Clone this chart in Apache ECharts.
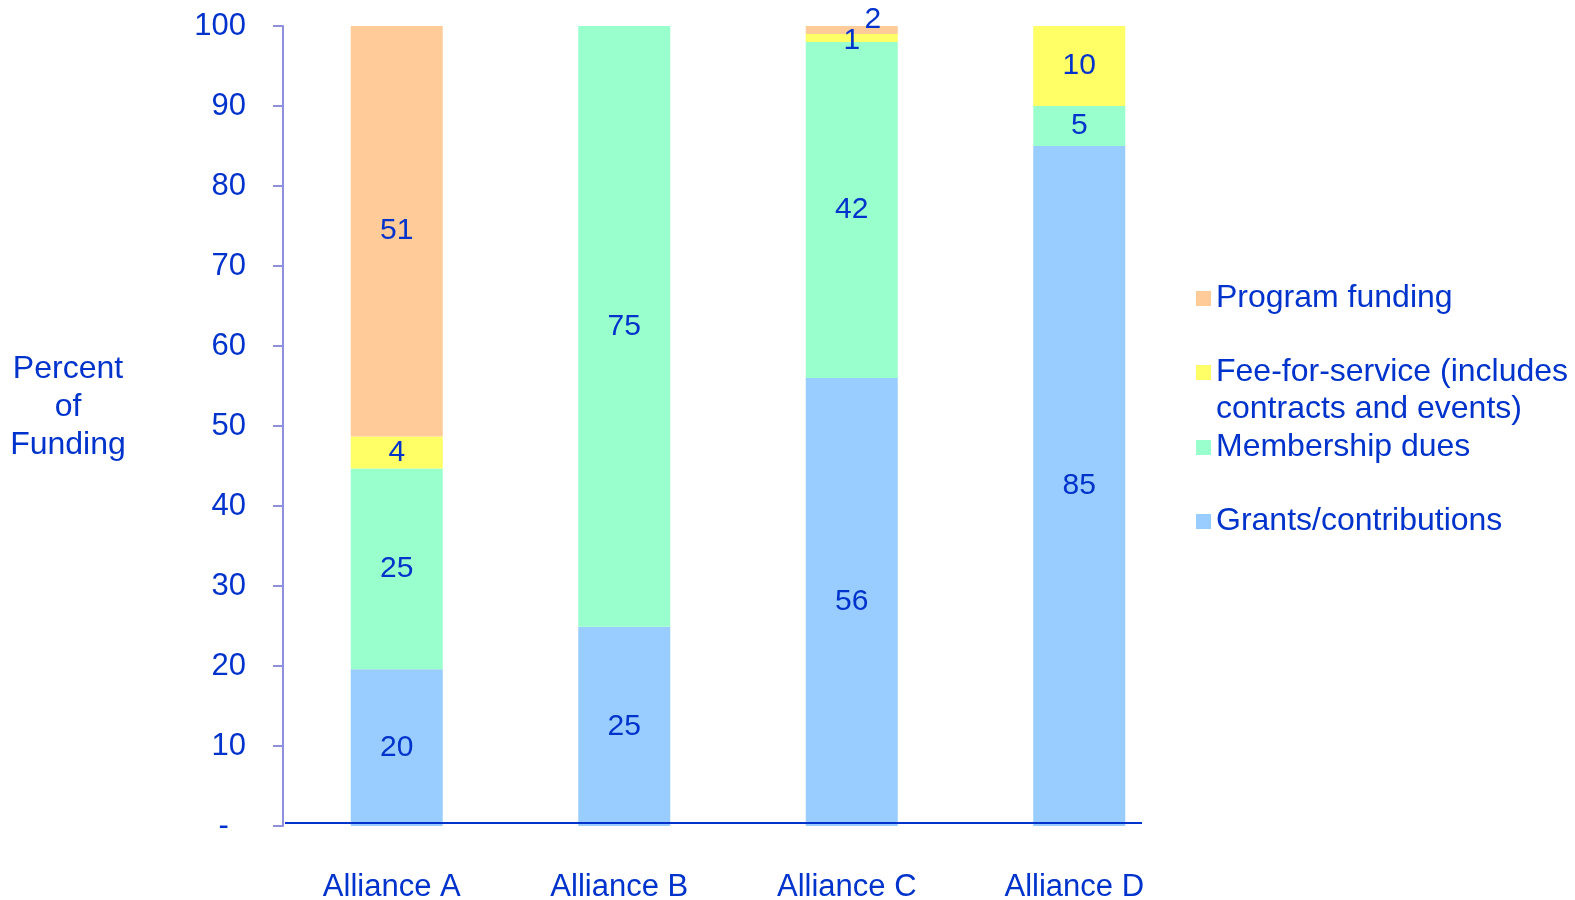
<!DOCTYPE html>
<html>
<head>
<meta charset="utf-8">
<script src="https://cdn.jsdelivr.net/npm/echarts@6/dist/echarts.min.js"></script>
<style>
  html, body { margin: 0; padding: 0; background: #fff; }
  #chart { width: 1575px; height: 900px; }
</style>
</head>
<body>
<div id="chart"></div>
<script>
// categories and series values (percent of funding)
const categories = ['Alliance A', 'Alliance B', 'Alliance C', 'Alliance D'];
const grants = [19.6, 24.9, 56, 85];
const membership = [25.1, 75.1, 42, 5];
const feeForService = [4.0, null, 1, 10];
const programFunding = [51.3, null, 2, null];
const yTicks = { min: 0, max: 100, interval: 10 };

const blue = '#0033CC';
const axisPurple = '#8F8FE0';
const fontFamily = 'Liberation Sans, Arial, sans-serif';

const chart = echarts.init(document.getElementById('chart'));

function labelFormatter(p) {
  return p.value == null ? '' : String(Math.round(p.value));
}

function makeSeries(name, values, color, itemLabels) {
  return {
    name: name,
    type: 'bar',
    stack: 'total',
    barWidth: 92,
    itemStyle: { color: color },
    label: {
      show: true,
      position: 'inside',
      color: blue,
      fontSize: 30,
      fontFamily: fontFamily,
      formatter: labelFormatter
    },
    data: values.map((v, i) => {
      const item = { value: v };
      if (itemLabels && itemLabels[i]) item.label = itemLabels[i];
      return item;
    })
  };
}

// single-item legends so the spacing follows the original layout
function makeLegend(name, top) {
  return {
    data: [name],
    orient: 'vertical',
    left: 1191,
    top: top,
    icon: 'rect',
    itemWidth: 15,
    itemHeight: 15,
    selectedMode: false,
    textStyle: { color: blue, fontSize: 32, fontFamily: fontFamily, lineHeight: 37 },
    formatter: n => n === 'Fee-for-service (includes contracts and events)'
      ? '\nFee-for-service (includes\ncontracts and events)'
      : n
  };
}

const option = {
  animation: false,
  backgroundColor: '#fff',
  grid: {
    left: 283, right: 382, top: 26, bottom: 74,
    containLabel: false,
    outerBoundsMode: 'none'
  },
  legend: [
    makeLegend('Program funding', 275),
    makeLegend('Fee-for-service (includes contracts and events)', 312),
    makeLegend('Membership dues', 424),
    makeLegend('Grants/contributions', 498)
  ],
  xAxis: {
    type: 'category',
    data: categories,
    axisLine: { show: false },
    axisTick: { show: false },
    axisLabel: {
      color: blue,
      fontSize: 31,
      fontFamily: fontFamily,
      margin: 46,
      padding: [0, 10, 0, 0]
    }
  },
  yAxis: {
    type: 'value',
    min: yTicks.min,
    max: yTicks.max,
    interval: yTicks.interval,
    // trailing blank line lifts the block to sit where the original does
    name: 'Percent\nof\nFunding\n',
    nameLocation: 'middle',
    nameRotate: 0,
    nameGap: 215,
    nameTextStyle: {
      color: blue,
      fontSize: 32,
      fontFamily: fontFamily,
      lineHeight: 38,
      align: 'center',
      verticalAlign: 'middle'
    },
    axisLine: { show: true, lineStyle: { color: axisPurple, width: 2 } },
    axisTick: { show: true, length: 10, lineStyle: { color: axisPurple, width: 2 } },
    splitLine: { show: false },
    axisLabel: {
      color: blue,
      fontSize: 31,
      fontFamily: fontFamily,
      margin: 37,
      formatter: v => (v === 0 ? '-  ' : String(v))
    }
  },
  graphic: [{
    type: 'line',
    shape: { x1: 285, y1: 823, x2: 1142, y2: 823 },
    style: { stroke: blue, lineWidth: 2 },
    z: 100
  }],
  series: [
    makeSeries('Grants/contributions', grants, '#99CCFF'),
    makeSeries('Membership dues', membership, '#99FFCC'),
    makeSeries('Fee-for-service (includes contracts and events)', feeForService, '#FFFF66',
      [null, null, { offset: [0, 3] }, null]),
    makeSeries('Program funding', programFunding, '#FFCC99',
      [null, null, { offset: [21, -10] }, null])
  ]
};

chart.setOption(option);
window.addEventListener('resize', chart.resize);
</script>
</body>
</html>
